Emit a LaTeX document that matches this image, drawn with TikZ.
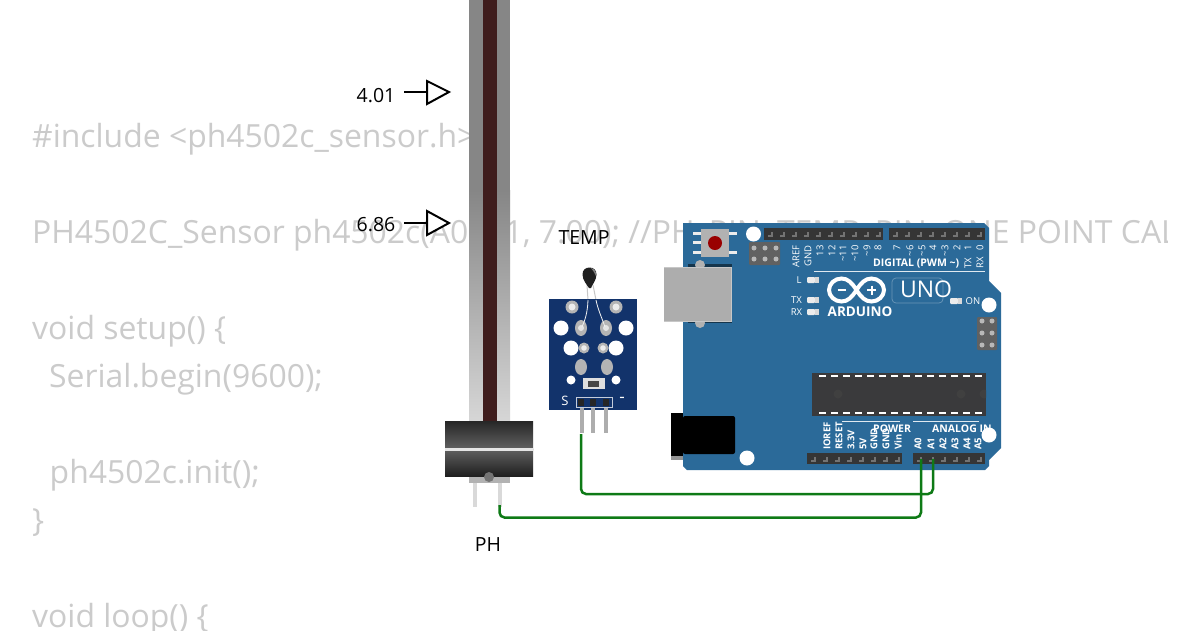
\documentclass[tikz,border=0pt]{standalone}
\usepackage{fontspec}
\setmainfont{Open Sans}
\usetikzlibrary{calc}
\definecolor{boardblue}{HTML}{2B6A99}
\definecolor{codegray}{HTML}{CBCBCB}
\definecolor{wiregreen}{HTML}{0E7A16}
\definecolor{pcbnavy}{HTML}{12336B}
\definecolor{probered}{HTML}{3F1D1D}
\definecolor{chipdark}{HTML}{3A3A3C}
\definecolor{headerdark}{HTML}{353535}
\definecolor{holegray}{HTML}{B4B4B4}
\tikzset{
  x=1pt,y=-1pt,
  codeline/.style={anchor=base west,inner sep=0pt,text=codegray,font=\fontsize{31.9}{38}\selectfont},
  plainlabel/.style={inner sep=0pt,text=black,font=\fontsize{19.5}{24}\selectfont},
  toplabel/.style={rotate=90,anchor=east,inner sep=0pt,text=white,font=\fontsize{9.5}{10}\selectfont},
  botlabel/.style={rotate=90,anchor=west,inner sep=0pt,text=white,font=\bfseries\fontsize{9.5}{10}\selectfont},
  silk/.style={inner sep=0pt,text=white,font=\fontsize{9.5}{10}\selectfont},
  silkbold/.style={inner sep=0pt,text=white,font=\bfseries\fontsize{10.5}{12}\selectfont},
  wire/.style={draw=wiregreen,line width=2.5pt,rounded corners=5pt},
  marker/.style={draw=black,line width=2pt,line join=miter},
  hole/.style={fill=white},
}
\newcommand{\boardled}[2]{%
  \fill[white!85!gray,rounded corners=1pt] (#1,#2-3) rectangle ++(8,6);
  \fill[white!70!gray] (#1+8,#2-3) rectangle ++(4,6);}
\begin{document}
\begin{tikzpicture}
\useasboundingbox (0,0) rectangle (1200,630);
\fill[white] (0,0) rectangle (1200,630);
\begin{scope}
\clip (0,0) rectangle (1167,630);
\node[codeline] (code1) at (32,147.5) {\#include <ph4502c\_sensor.h>};
\node[codeline] (code2) at (32,243.5) {PH4502C\_Sensor ph4502c(A0, A1, 7.00); //PH\_PIN, TEMP\_PIN, ONE POINT CAL};
\node[codeline] (code3) at (32,339.5) {void setup() \{};
\node[codeline] (code4) at (49,387.5) {Serial.begin(9600);};
\node[codeline] (code5) at (49.5,483.5) {ph4502c.init();};
\node[codeline] (code6) at (32,531.5) {\}};
\node[codeline] (code7) at (32,627.5) {void loop() \{};
\end{scope}

% pH probe
\fill[gray!95] (469,0) rectangle (510,190);
\shade[top color=gray!95,bottom color=black!16] (469,190) rectangle (510,421);
\fill[probered] (482.5,0) rectangle (497,421);
\fill[black!30] (469,476) rectangle (510,483);
\fill[black!15] (473,483) rectangle (477,507);
\coordinate (phpin) at (499.5,505);
\fill[black!15] (498,483) rectangle (502,507);
\shade[top color=black!85,bottom color=black!62] (445,421) rectangle (533,449);
\shade[top color=black!62,bottom color=black!88] (445,449) rectangle (533,476);
\fill[white!90!black] (445,447.5) rectangle (533,450.5);
\fill[black!55] (489,477) circle (5);

% pH markers
\node[plainlabel] (m401) at (376,95.5) {4.01};
\node[plainlabel] (m686) at (376,224.5) {6.86};
\coordinate (arrow401) at (427,92);
\coordinate (arrow686) at (427,223);
\draw[marker] (404,92) -- (arrow401);
\draw[marker] (404,223) -- (arrow686);
\draw[marker,fill=white] (427,81) -- (449,92) -- (427,104) -- cycle;
\draw[marker,fill=white] (427,211) -- (449,223) -- (427,235) -- cycle;
\node[plainlabel] (phlabel) at (488,544.5) {PH};
\node[plainlabel] (templabel) at (584,237.5) {TEMP};

% temperature module
\draw[black!22,line width=1pt] (587,285) -- (588,300);
\draw[black!22,line width=1pt] (593,285) -- (596,300);
\fill[pcbnavy] (549,299) rectangle (637,410);
\foreach \x in {561,626} \fill[hole] (\x,328) circle (7.5);
\foreach \x in {571,616} {\fill[hole] (\x,348) circle (7.5); \fill[hole] (\x,380) circle (4.5);}
\foreach \x in {572,616} {\fill[holegray] (\x,307) circle (6.5); \fill[white!85!gray] (\x,307) circle (3.5);}
\foreach \x in {584,603} {\fill[holegray] (\x,348) circle (5.5); \fill[white!85!gray] (\x,348) circle (2.8);}
\foreach \x in {581,606} {\fill[holegray] (\x,328) ellipse (6 and 8); \fill[white!80!gray] (\x,328) circle (3);}
\foreach \x in {581,607} \fill[holegray] (\x,367) ellipse (6 and 8);
\fill[white!75!gray] (583,378) rectangle (605,389);
\fill[black!72] (588,381) rectangle (599,387);
\node[inner sep=0pt,text=white,font=\fontsize{13}{14}\selectfont] (slabel) at (565,401) {S};
\node[inner sep=0pt,text=white,font=\fontsize{17}{18}\selectfont] (minuslabel) at (622,399.5) {-};
\draw[white!75!pcbnavy,line width=1pt] (576,397) rectangle (612,407);
\foreach \x in {581,593,606} {\fill[black!85] (\x-3,399) rectangle (\x+3,406);}
\foreach \x in {582,593,606} {\fill[black!32] (\x-1.7,408) rectangle (\x+1.7,433);}
\draw[white!90!gray,line width=.8pt] (588,300) .. controls (587.5,313) and (585,320) .. (582,327);
\draw[white!90!gray,line width=.8pt] (596,300) .. controls (598,310) and (602,318) .. (605,327);
\fill[black!88] (589,288) .. controls (587,285) and (582.5,280) .. (582.5,274.5) .. controls (582.5,270) and (585.5,267.5) .. (589.5,267.5) .. controls (593.5,267.5) and (596.5,270) .. (596.5,274.5) .. controls (596.5,280) and (592,285) .. (591,288) -- cycle;
\fill[black!50] (591,268) .. controls (595,269) and (596.5,272) .. (596,276) .. controls (594.5,273) and (593,270) .. (591,268) -- cycle;

% Arduino: parts behind the board edge
\fill[black!42] (671,456) rectangle (683,460);
\fill[boardblue] (683,223) -- (984,223) -- (989,228) -- (989,281) -- (1001,293) -- (1001,448) -- (989,460) -- (989,466) -- (985,470) -- (687,470) -- (683,466) -- cycle;
\fill[black!50!boardblue] (688,264) rectangle (732,323);
\foreach \y in {265,323} \fill[black!30] (700,\y) circle (5);
\fill[black!32] (664,267) rectangle (731,321);
\draw[black!22,line width=.8pt] (664,321) -- (731,321) -- (731,267) -- (664,267);
\fill[black] (671,413) rectangle (683,456);
\fill[black,rounded corners=2pt] (683,416) rectangle (735,454);

% reset button
\foreach \y in {233,242,252} {\fill[white!85!gray] (693,\y-1.5) rectangle (701,\y+1.5);}
\foreach \y in {233,252} {\fill[white!85!gray] (729,\y-1.5) rectangle (737,\y+1.5);}
\fill[black!30] (701,229) rectangle (729,257);
\fill[red!60!black] (715,243) circle (7);

% ICSP headers
\fill[black!62,rounded corners=1pt] (749,242) rectangle (780,265);
\foreach \x in {754,765,776} \foreach \y in {248,259} \fill[black!28] (\x,\y) circle (2.5);
\fill[black!62,rounded corners=1pt] (977,317) rectangle (997,350);
\foreach \x in {982,992} \foreach \y in {321,333,345} \fill[black!28] (\x,\y) circle (2.5);

% pin headers
\fill[headerdark] (764,228) rectangle (883,240);
\fill[headerdark] (889,228) rectangle (985,240);
\fill[headerdark] (807,453) rectangle (902,464);
\fill[headerdark] (913,453) rectangle (985,464);
\foreach \x in {770,782,...,878} \draw[black!55,line width=1.2pt] (\x-2,236) -- (\x+2,236) -- (\x+2,232);
\foreach \x in {895,907,...,979} \draw[black!55,line width=1.2pt] (\x-2,236) -- (\x+2,236) -- (\x+2,232);
\foreach \x in {813,825,...,897} \draw[black!55,line width=1.2pt] (\x-2,461) -- (\x+2,461) -- (\x+2,457);
\foreach \x in {919,931,...,979} \draw[black!55,line width=1.2pt] (\x-2,461) -- (\x+2,461) -- (\x+2,457);

% chip
\fill[chipdark] (812,373) rectangle (986,416);
\foreach \x in {819,831,...,975} {\fill[white] (\x,375) rectangle ++(7,2); \fill[white] (\x,412) rectangle ++(7,2);}
\fill[black!75] (838,394) circle (4.5);
\fill[black!75] (961,394) circle (4.5);
\begin{scope}
\clip (812,373) rectangle (986,416);
\fill[black!75] (984,394) circle (4.5);
\end{scope}

% silkscreen, top
\node[toplabel] (tAREF) at (796,245) {AREF};
\node[toplabel] (tGND) at (808,245) {GND};
\node[toplabel] (t13) at (820,245) {13};
\node[toplabel] (t12) at (832,245) {12};
\node[toplabel] (t11) at (843,245) {\textasciitilde 11};
\node[toplabel] (t10) at (855,245) {\textasciitilde 10};
\node[toplabel] (t9) at (867,245) {\textasciitilde 9};
\node[toplabel] (t8) at (878,245) {8};
\node[toplabel] (t7) at (897,245) {7};
\node[toplabel] (t6) at (910,245) {\textasciitilde 6};
\node[toplabel] (t5) at (922,245) {\textasciitilde 5};
\node[toplabel] (t4) at (933,245) {4};
\node[toplabel] (t3) at (945,245) {\textasciitilde 3};
\node[toplabel] (t2) at (957,245) {2};
\node[toplabel] (t1) at (968,245) {1};
\node[toplabel] (t0) at (980,245) {0};
\node[rotate=90,anchor=west,inner sep=0pt,text=white,font=\fontsize{9.5}{10}\selectfont] (tTX) at (968,269) {TX};
\node[rotate=90,anchor=west,inner sep=0pt,text=white,font=\fontsize{9.5}{10}\selectfont] (tRX) at (980,269) {RX};
\node[silkbold,anchor=west] (digital) at (873,264) {DIGITAL (PWM \textasciitilde)};
\draw[white!85!boardblue,line width=1pt] (814,271) -- (985,271);
\node[silk] (lL) at (799,280) {L};
\node[silk] (lTX) at (796.5,300) {TX};
\node[silk] (lRX) at (796.5,312) {RX};
\node[silk] (lON) at (973,301) {ON};
\boardled{807}{280}
\boardled{807}{300}
\boardled{807}{312}
\boardled{950}{301}

% logo
\draw[white,line width=4pt] (856.5,290) .. controls (852,283) and (848,278.5) .. (841.5,278.5) .. controls (834.5,278.5) and (829,284) .. (829,290) .. controls (829,296) and (834.5,301.5) .. (841.5,301.5) .. controls (848,301.5) and (852,297) .. (856.5,290) .. controls (861,283) and (865,278.5) .. (871.5,278.5) .. controls (878.5,278.5) and (884,284) .. (884,290) .. controls (884,296) and (878.5,301.5) .. (871.5,301.5) .. controls (865,301.5) and (861,297) .. (856.5,290) -- cycle;
\draw[white,line width=2pt] (837.5,290) -- (846,290);
\draw[white,line width=2pt] (867,290) -- (876,290) (871.5,285.5) -- (871.5,294.5);
\node[inner sep=0pt,text=white,font=\bfseries\fontsize{13.5}{15}\selectfont] (arduino) at (860,312) {ARDUINO};
\draw[white!30!boardblue,line width=.7pt,rounded corners=4pt] (892,278) rectangle (943,303);
\node[inner sep=0pt,text=white,font=\fontsize{23}{26}\selectfont] (uno) at (926,289) {UNO};

% silkscreen, bottom
\draw[white!85!boardblue,line width=1pt] (842,421) -- (900,421);
\draw[white!85!boardblue,line width=1pt] (913,421) -- (979,421);
\node[botlabel] (bIOREF) at (827,450) {IOREF};
\node[botlabel] (bRESET) at (839,450) {RESET};
\node[botlabel] (b33) at (851,450) {3.3V};
\node[botlabel] (b5) at (863,450) {5V};
\node[botlabel] (bGND1) at (874,450) {GND};
\node[botlabel] (bGND2) at (886,450) {GND};
\node[botlabel] (bVin) at (898,450) {Vin};
\node[botlabel] (bA0) at (918,450) {A0};
\node[botlabel] (bA1) at (931,450) {A1};
\node[botlabel] (bA2) at (943,450) {A2};
\node[botlabel] (bA3) at (955,450) {A3};
\node[botlabel] (bA4) at (967,450) {A4};
\node[botlabel] (bA5) at (978,450) {A5};
\node[silkbold,anchor=west] (power) at (873,429) {POWER};
\node[silkbold,anchor=west] (analog) at (932,429) {ANALOG IN};

% board holes
\fill[hole] (753.5,234) circle (7.5);
\fill[hole] (989,305) circle (7.5);
\fill[hole] (989,435) circle (7.5);
\fill[hole] (747,458) circle (7.5);

% wires
\coordinate (sigpin) at (581,434);
\coordinate (a0pin) at (921,459);
\coordinate (a1pin) at (933,459);
\draw[wire] (sigpin) -- (581,494) -- (933,494) -- (a1pin);
\draw[wire] (phpin) -- (499.5,517.5) -- (921,517.5) -- (a0pin);
\end{tikzpicture}
\end{document}
